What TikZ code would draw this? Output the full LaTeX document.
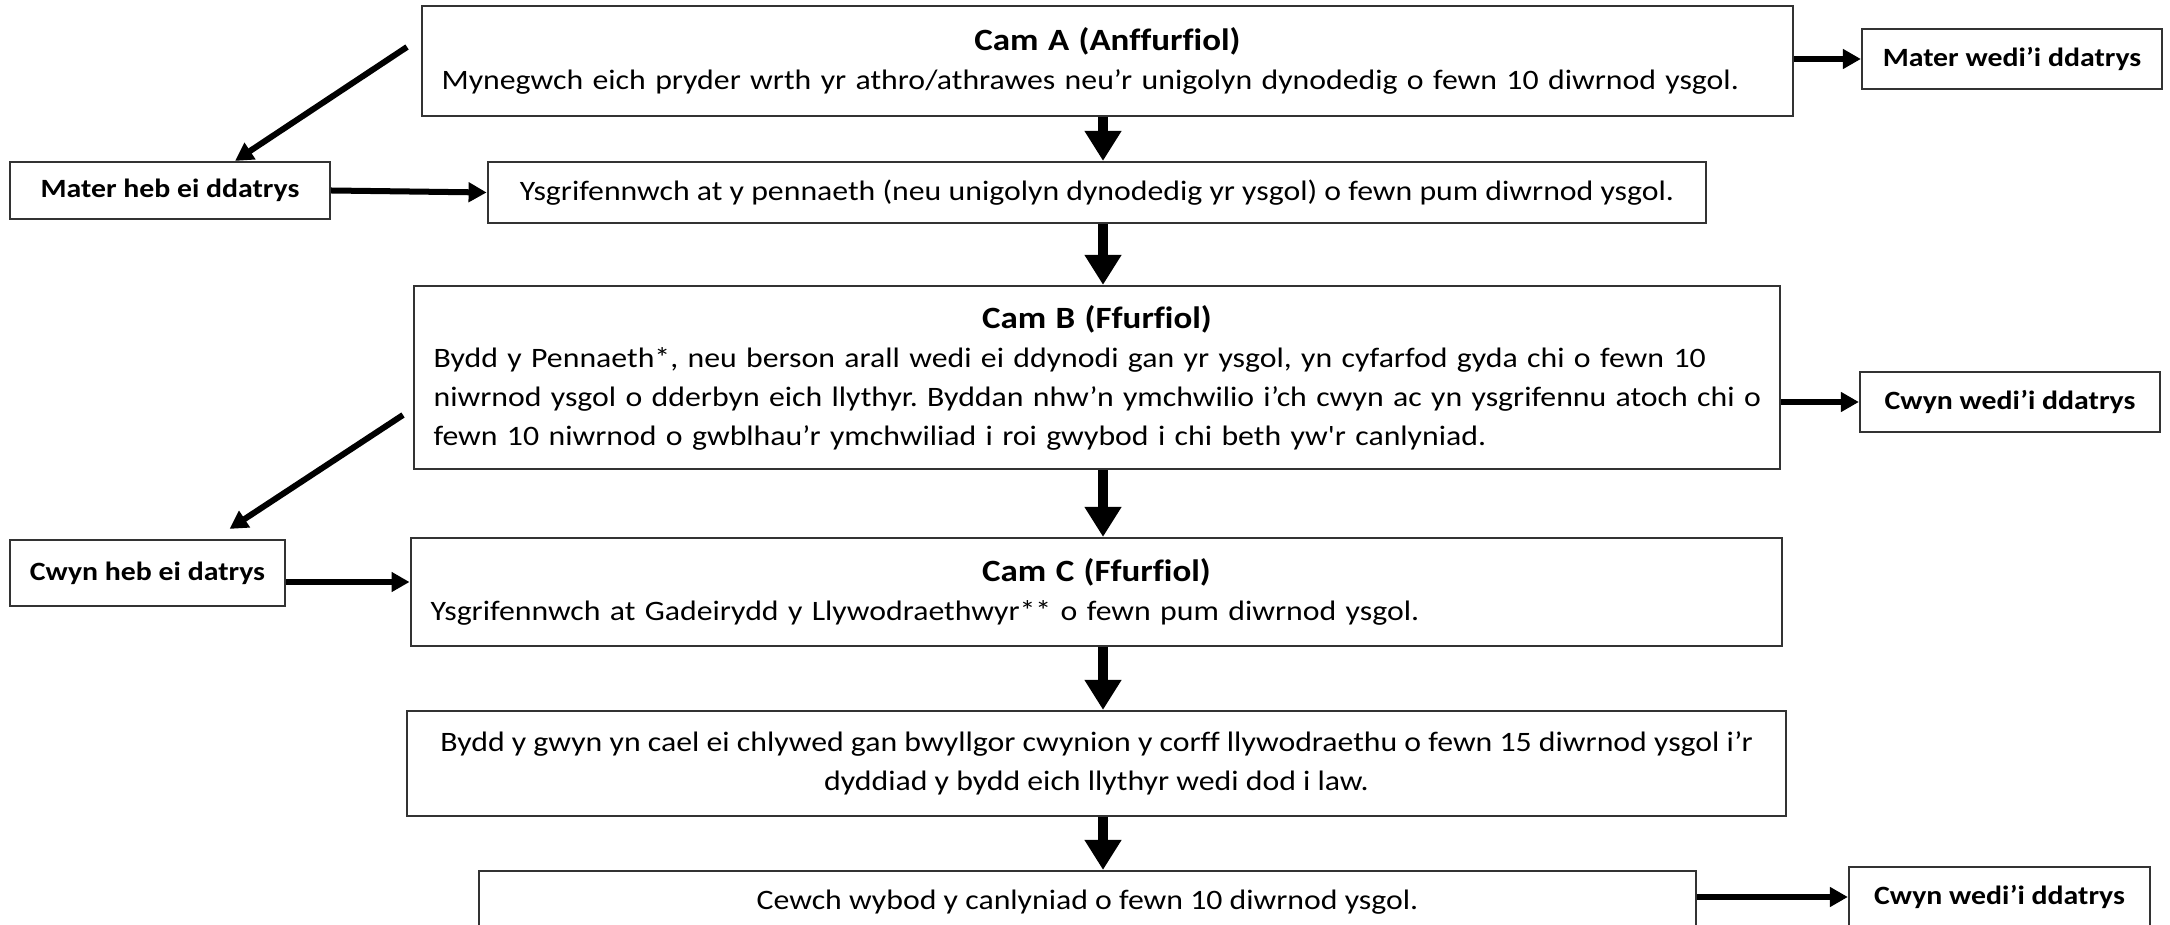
\documentclass[tikz,border=0pt]{standalone}
\usepackage{fontspec}
\setmainfont[FakeStretch=1.13, Ligatures={CommonOff,TeXOff}]{Carlito}
\usetikzlibrary{arrows.meta}
\frenchspacing
\newcommand\stagetitle[1]{{\centering\fontsize{8.8}{11.6}\selectfont\bfseries #1\par}}
\tikzset{
	stage/.style={draw=black!80, line width=0.6pt, inner xsep=0.2cm, inner ysep=0pt, font=\fontsize{8}{11.1}\selectfont},
	outcome/.style={draw=black!80, line width=0.6pt, inner sep=0pt, align=center, font=\fontsize{7.5}{9}\selectfont\bfseries},
	bigarrow/.style={line width=0.095cm, -{Triangle[width=0.35cm,length=0.3cm]}},
	smallarrow/.style={line width=0.06cm, -{Triangle[width=0.19cm,length=0.18cm]}}
}

\begin{document}
\begin{tikzpicture}[x=0.01cm, y=-0.01cm]
		%%%%% START %%%%%
		\useasboundingbox (0, 0) rectangle (2170, 925);
		
		\node[stage, text width=13.31cm, minimum height=1.1cm, align=left] (camA) at (1107.5, 61) {\stagetitle{Cam A (Anffurfiol)}\mbox{Mynegwch eich pryder wrth yr athro/athrawes neu’r unigolyn dynodedig o fewn 10 diwrnod ysgol.}};
		\node[outcome, minimum width=3cm, minimum height=0.6cm] (mwA) at (2012, 59) {Mater wedi’i ddatrys};
		
		\node[outcome, minimum width=3.2cm, minimum height=0.57cm] (mheb) at (170, 190.5) {Mater heb ei ddatrys};
		\node[stage, minimum width=12.18cm, minimum height=0.61cm, align=center] (ysg) at (1097, 192.5) {Ysgrifennwch at y pennaeth (neu unigolyn dynodedig yr ysgol) o fewn pum diwrnod ysgol.};
		
		\node[stage, text width=13.26cm, minimum height=1.83cm, align=left] (camB) at (1097, 377.5) {\stagetitle{Cam B (Ffurfiol)}\mbox{Bydd y Pennaeth*, neu berson arall wedi ei ddynodi gan yr ysgol, yn cyfarfod gyda chi o fewn 10}\\ \mbox{niwrnod ysgol o dderbyn eich llythyr. Byddan nhw’n ymchwilio i’ch cwyn ac yn ysgrifennu atoch chi o}\\ \mbox{fewn 10 niwrnod o gwblhau’r ymchwiliad i roi gwybod i chi beth yw'r canlyniad.}};
		\node[outcome, minimum width=3cm, minimum height=0.6cm] (cwB) at (2010, 402) {Cwyn wedi’i ddatrys};
		
		\node[outcome, minimum width=2.75cm, minimum height=0.66cm] (cheb) at (147.5, 573) {Cwyn heb ei datrys};
		\node[stage, text width=13.31cm, minimum height=1.08cm, align=left] (camC) at (1096.5, 592) {\stagetitle{Cam C (Ffurfiol)}\mbox{Ysgrifennwch at Gadeirydd y Llywodraethwyr** o fewn pum diwrnod ysgol.}};
		
		\node[stage, minimum width=13.79cm, minimum height=1.05cm, align=center] (camD) at (1096.5, 763.5) {Bydd y gwyn yn cael ei chlywed gan bwyllgor cwynion y corff llywodraethu o fewn 15 diwrnod ysgol i’r\\ dyddiad y bydd eich llythyr wedi dod i law.};
		
		\node[stage, minimum width=12.17cm, minimum height=0.62cm, align=center] (camE) at (1087.5, 902) {Cewch wybod y canlyniad o fewn 10 diwrnod ysgol.};
		\node[outcome, minimum width=3.01cm, minimum height=0.6cm] (cwE) at (1999.5, 897) {Cwyn wedi’i ddatrys};
		
		% main line down the middle
		\coordinate (spine) at (1103, 0);
		\draw[bigarrow] (camA.south -| spine) -- (ysg.north -| spine);
		\draw[bigarrow] (ysg.south -| spine) -- (camB.north -| spine);
		\draw[bigarrow] (camB.south -| spine) -- (camC.north -| spine);
		\draw[bigarrow] (camC.south -| spine) -- (camD.north -| spine);
		\draw[bigarrow] (camD.south -| spine) -- (camE.north -| spine);
		
		% side arrows
		\draw[smallarrow] (camA.east |- mwA.west) -- (mwA.west);
		\draw[smallarrow] (mheb.east) -- (ysg.west);
		\draw[smallarrow] (camB.east |- cwB.west) -- (cwB.west);
		\draw[smallarrow] ([yshift=-0.09cm]cheb.east) -- ([yshift=-0.09cm]cheb.east -| camC.west);
		\draw[smallarrow] (camE.east |- cwE.west) -- (cwE.west);
		
		\coordinate (outA) at (407, 47);
		\draw[smallarrow] (outA) -- ([xshift=0.65cm]mheb.north);
		\coordinate (outB) at (403, 415);
		\draw[smallarrow] (outB) -- ([xshift=0.82cm, yshift=0.1cm]cheb.north);
		
		%%%%% END %%%%%
\end{tikzpicture}
\end{document}
